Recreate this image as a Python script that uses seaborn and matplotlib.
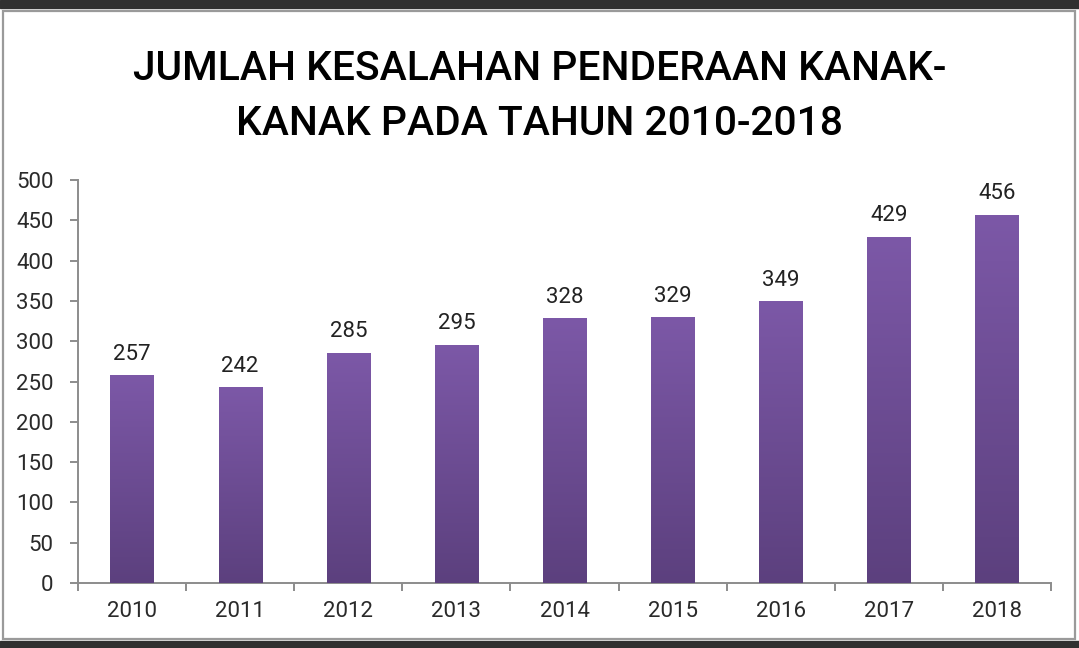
import matplotlib
matplotlib.use('Agg')
import matplotlib.pyplot as plt
import seaborn as sns
import numpy as np
import pandas as pd
from matplotlib.colors import LinearSegmentedColormap
from matplotlib.patches import Rectangle

years = ['2010', '2011', '2012', '2013', '2014', '2015', '2016', '2017', '2018']
cases = [257, 242, 285, 295, 328, 329, 349, 429, 456]
title_lines = ['JUMLAH KESALAHAN PENDERAAN KANAK-', 'KANAK PADA TAHUN 2010-2018']

df = pd.DataFrame({'Tahun': years, 'Jumlah': cases})

sns.set_style('white')
plt.rcParams['font.family'] = ['Roboto', 'DejaVu Sans']

W, H = 1079, 648
fig = plt.figure(figsize=(W / 100, H / 100), dpi=100)
fig.patch.set_facecolor('white')

# bingkai gelap atas/bawah dan garis kelabu (tangkapan skrin)
fig.patches.append(Rectangle((0, 1 - 8 / H), 1, 8 / H, transform=fig.transFigure,
                             color='#303030', zorder=0))
fig.patches.append(Rectangle((0, 0), 1, 7 / H, transform=fig.transFigure,
                             color='#303030', zorder=0))
fig.patches.append(Rectangle((3 / W, 1 - 639 / H), 1072 / W, 628 / H,
                             transform=fig.transFigure, fill=False,
                             edgecolor='#9a9a9a', lw=1.6, zorder=0))

ax = fig.add_axes([78 / W, 1 - 583 / H, 973 / W, 403 / H])
ax.set_facecolor('none')

sns.barplot(data=df, x='Tahun', y='Jumlah', color='#6a4a94', width=0.4,
            saturation=1, ax=ax)

# gradien ungu pada setiap bar
cmap = LinearSegmentedColormap.from_list('ungu', ['#5c407e', '#7c58a7'])
grad = np.linspace(0, 1, 256).reshape(-1, 1)
for p in ax.patches:
    x0 = p.get_x()
    w = p.get_width()
    h = p.get_height()
    ax.imshow(grad, extent=[x0, x0 + w, 0, h], origin='lower', cmap=cmap,
              aspect='auto', zorder=3)

for c in ax.containers:
    ax.bar_label(c, padding=8, fontsize=16, color='#222222', zorder=4)

ax.set_xlim(-0.5, len(years) - 0.5)
ax.set_ylim(0, 500)
ax.set_yticks(range(0, 501, 50))
ax.set_xticks(range(len(years)))
ax.set_xticklabels(years)
ax.set_xticks(np.arange(-0.5, len(years), 1), minor=True)
ax.set_xlabel('')
ax.set_ylabel('')

for s in ['top', 'right']:
    ax.spines[s].set_visible(False)
for s in ['left', 'bottom']:
    ax.spines[s].set_color('#8c8c8c')
    ax.spines[s].set_linewidth(1.4)

ax.tick_params(axis='y', which='major', length=6, width=1.4, color='#8c8c8c',
               pad=11.5, labelsize=16, labelcolor='#2a2a2a', left=True)
ax.tick_params(axis='x', which='major', length=0, pad=13, labelsize=16,
               labelcolor='#2a2a2a')
ax.tick_params(axis='x', which='minor', length=6, width=1.4, color='#8c8c8c',
               bottom=True, direction='out')

fig.text(540 / W, 1 - 80 / H, title_lines[0], ha='center', va='baseline',
         fontsize=29.3, fontweight='medium', color='black')
fig.text(540 / W, 1 - 135 / H, title_lines[1], ha='center', va='baseline',
         fontsize=29.3, fontweight='medium', color='black')

fig.savefig('out.png', dpi=100)
